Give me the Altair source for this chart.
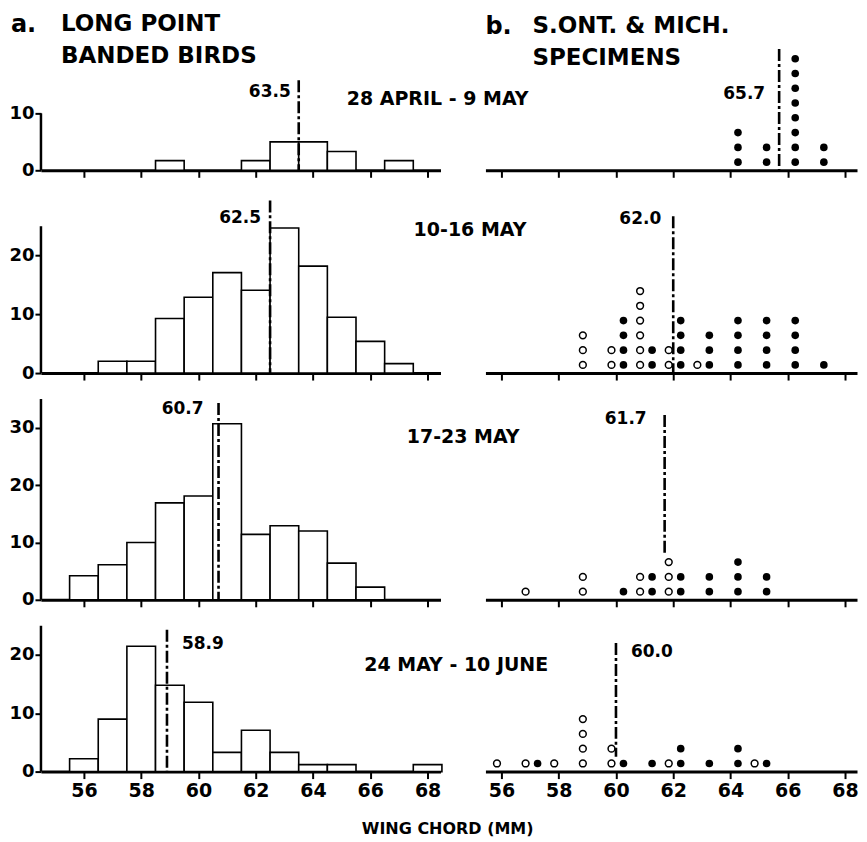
import altair as alt
import pandas as pd

# ---------------- data ----------------
MM = list(range(56, 69))  # wing chord classes (mm)
PERIODS = ["28 APRIL - 9 MAY", "10-16 MAY", "17-23 MAY", "24 MAY - 10 JUNE"]

banded_1 = [0, 0, 0, 1.7, 0, 0, 1.7, 5.0, 5.0, 3.3, 0, 1.7, 0]
banded_2 = [0, 2.0, 2.0, 9.3, 12.9, 17.1, 14.1, 24.7, 18.2, 9.5, 5.4, 1.6, 0]
banded_3 = [4.2, 6.1, 10.0, 16.9, 18.1, 30.7, 11.4, 12.9, 12.0, 6.4, 2.2, 0, 0]
banded_4 = [2.2, 9.0, 21.5, 14.8, 11.9, 3.3, 7.1, 3.3, 1.2, 1.2, 0, 0, 1.2]
BANDED = [banded_1, banded_2, banded_3, banded_4]
banded_means = [63.5, 62.5, 60.7, 58.9]
banded_mean_labels = ["63.5", "62.5", "60.7", "58.9"]

spec_open_1 = [0] * 13
spec_filled_1 = [0, 0, 0, 0, 0, 0, 0, 0, 3, 2, 8, 2, 0]
spec_open_2 = [0, 0, 0, 3, 2, 6, 2, 1, 0, 0, 0, 0, 0]
spec_filled_2 = [0, 0, 0, 0, 4, 2, 4, 3, 4, 4, 4, 1, 0]
spec_open_3 = [0, 1, 0, 2, 0, 2, 3, 0, 0, 0, 0, 0, 0]
spec_filled_3 = [0, 0, 0, 0, 1, 2, 2, 2, 3, 2, 0, 0, 0]
spec_open_4 = [1, 1, 1, 4, 2, 0, 1, 0, 0, 1, 0, 0, 0]
spec_filled_4 = [0, 1, 0, 0, 1, 1, 2, 1, 2, 1, 0, 0, 0]
SPEC_OPEN = [spec_open_1, spec_open_2, spec_open_3, spec_open_4]
SPEC_FILLED = [spec_filled_1, spec_filled_2, spec_filled_3, spec_filled_4]
spec_means = [65.7, 62.0, 61.7, 60.0]
spec_mean_labels = ["65.7", "62.0", "61.7", "60.0"]

Y_MAX = [10, 25, 35, 25]

# ---------------- layout / style ----------------
FONT = "DejaVu Sans"
ROW_H_AXIS = [57, 147, 201, 146]   # pixel height of the y-axis part
ROW_EXTRA = [0, 30, 0, 0]          # extra headroom above the axis
ROW_H = [a + e for a, e in zip(ROW_H_AXIS, ROW_EXTRA)]
LEFT_W, RIGHT_W = 400, 372
LEFT_DOMAIN = [54.5, 68.45]
RIGHT_DOMAIN = [55.44, 68.42]
LEVEL_PX = 14.8
left_line_top = [15.8, 29.4, 34.3, 24.3]
left_label_y = [13.7, 26.4, 33.3, 21.9]
left_label_dx = [-8, -9, -15, 15]
right_line_top = [8.2, 10.6, 12.5, 8.7]
right_line_bot = [0, 0, 3.1, 1.0]
right_label_y = [5.15, 10.4, 12.2, 8.1]
right_label_dx = [-14, -12, -18, 15]
period_x = [68.35, 69.48, 69.24, 69.0]
period_y = [12.6, 24.3, 28.4, 18.3]
DASH = [12, 3, 3, 3]


def xaxis(show_labels):
    return alt.Axis(values=MM, title=None, grid=False, domainWidth=3,
                    domainColor="black", tickColor="black", tickWidth=2,
                    tickSize=7, labels=show_labels,
                    labelExpr="datum.value % 2 == 0 ? datum.label : ''",
                    labelFontSize=19, labelFont=FONT, labelFontWeight="bold",
                    labelColor="black", labelPadding=3, labelFlush=False,
                    labelOverlap=False)


def yaxis(i):
    return alt.Axis(values=list(range(0, Y_MAX[i] + 1, 5)), title=None,
                    grid=False, domain=False,
                    tickColor="black", tickWidth=2, tickSize=6,
                    labelExpr="datum.value % 10 == 0 ? datum.label : ''",
                    labelFontSize=18, labelFont=FONT, labelFontWeight="bold",
                    labelColor="black", labelPadding=1, labelOverlap=False)


def text_layer(df, size, align="left", baseline="middle", dx=0, xs=None, ys=None):
    return alt.Chart(df).mark_text(font=FONT, fontSize=size, fontWeight="bold",
                                   align=align, baseline=baseline, dx=dx,
                                   color="black").encode(
        x=alt.X("tx:Q", scale=xs), y=alt.Y("ty:Q", scale=ys), text="t:N")


def left_chart(i):
    xs = alt.Scale(domain=LEFT_DOMAIN, nice=False, zero=False)
    ys = alt.Scale(domain=[0, Y_MAX[i] * ROW_H[i] / ROW_H_AXIS[i]], nice=False)
    df = pd.DataFrame({"mm": MM, "n": BANDED[i]})
    df = df[df.n > 0]
    bars = alt.Chart(df).transform_calculate(
        lo="datum.mm - 0.5", hi="datum.mm + 0.5"
    ).mark_rect(fill="white", stroke="black", strokeWidth=1.6).encode(
        x=alt.X("lo:Q", scale=xs, axis=xaxis(i == 3)),
        x2="hi:Q",
        y=alt.Y("n:Q", scale=ys, axis=yaxis(i)),
        y2=alt.datum(0),
    )
    # y-axis line, only as tall as the labelled range
    ydf = pd.DataFrame({"x0": [LEFT_DOMAIN[0]], "y0": [0], "y1": [Y_MAX[i]]})
    yline = alt.Chart(ydf).mark_rule(color="black", strokeWidth=2.5).encode(
        x=alt.X("x0:Q", scale=xs), y=alt.Y("y0:Q", scale=ys), y2="y1:Q")
    mdf = pd.DataFrame({"tx": [banded_means[i]], "top": [left_line_top[i]],
                        "ty": [left_label_y[i]], "t": [banded_mean_labels[i]]})
    rule = alt.Chart(mdf).mark_rule(color="black", strokeWidth=2.6,
                                    strokeDash=DASH).encode(
        x=alt.X("tx:Q", scale=xs), y=alt.Y("top:Q", scale=ys), y2=alt.datum(0))
    mlab = text_layer(mdf, 17, align="right" if left_label_dx[i] < 0 else "left",
                      dx=left_label_dx[i], xs=xs, ys=ys)
    pdf = pd.DataFrame({"tx": [period_x[i]], "ty": [period_y[i]], "t": [PERIODS[i]]})
    plab = text_layer(pdf, 19, align="center", xs=xs, ys=ys)
    layers = [bars, yline, rule, mlab, plab]
    if i == 0:
        h1 = pd.DataFrame({"tx": [53.45], "ty": [24.3], "t": ["a."]})
        h2 = pd.DataFrame({"tx": [55.2, 55.2], "ty": [24.4, 18.8],
                           "t": ["LONG POINT", "BANDED  BIRDS"]})
        layers.append(text_layer(h1, 24, baseline="alphabetic", xs=xs, ys=ys))
        layers.append(text_layer(h2, 23, baseline="alphabetic", xs=xs, ys=ys))
    if i == 3:
        tdf = pd.DataFrame({"tx": [68.7], "ty": [-9.9], "t": ["WING CHORD (MM)"]})
        layers.append(text_layer(tdf, 16, align="center", xs=xs, ys=ys))
    return alt.layer(*layers).properties(width=LEFT_W, height=ROW_H[i])


def expand(counts):
    rows = []
    for mm, c in zip(MM, counts):
        for k in range(c):
            rows.append({"mm": mm, "lev": k + 0.55})
    return pd.DataFrame(rows)


def right_chart(i):
    xs = alt.Scale(domain=RIGHT_DOMAIN, nice=False, zero=False)
    ys = alt.Scale(domain=[0, ROW_H[i] / LEVEL_PX], nice=False)
    adf = pd.DataFrame({"mm": MM})
    axis_layer = alt.Chart(adf).mark_point(opacity=0).encode(
        x=alt.X("mm:Q", scale=xs, axis=xaxis(i == 3)),
        y=alt.Y("z:Q", scale=ys, axis=None),
    ).transform_calculate(z="0")
    layers = [axis_layer]
    odf = expand(SPEC_OPEN[i])
    if len(odf):
        layers.append(alt.Chart(odf).mark_point(shape="circle", filled=False,
                                                color="black", size=46,
                                                strokeWidth=1.5, opacity=1,
                                                xOffset=-4.5).encode(
            x=alt.X("mm:Q", scale=xs), y=alt.Y("lev:Q", scale=ys)))
    fdf = expand(SPEC_FILLED[i])
    if len(fdf):
        layers.append(alt.Chart(fdf).mark_circle(color="black", size=58,
                                                 opacity=1, xOffset=7.5).encode(
            x=alt.X("mm:Q", scale=xs), y=alt.Y("lev:Q", scale=ys)))
    mdf = pd.DataFrame({"tx": [spec_means[i]], "top": [right_line_top[i]],
                        "bot": [right_line_bot[i]], "ty": [right_label_y[i]],
                        "t": [spec_mean_labels[i]]})
    layers.append(alt.Chart(mdf).mark_rule(color="black", strokeWidth=2.6,
                                           strokeDash=DASH).encode(
        x=alt.X("tx:Q", scale=xs), y=alt.Y("top:Q", scale=ys), y2="bot:Q"))
    layers.append(text_layer(mdf, 17, align="right" if right_label_dx[i] < 0 else "left",
                             dx=right_label_dx[i], xs=xs, ys=ys))
    if i == 0:
        h1 = pd.DataFrame({"tx": [55.44], "ty": [9.25], "t": ["b."]})
        h2 = pd.DataFrame({"tx": [57.08, 57.08], "ty": [9.28, 7.1],
                           "t": ["S.ONT. & MICH.", "SPECIMENS"]})
        layers.append(text_layer(h1, 24, baseline="alphabetic", xs=xs, ys=ys))
        layers.append(text_layer(h2, 23, baseline="alphabetic", xs=xs, ys=ys))
    return alt.layer(*layers).properties(width=RIGHT_W, height=ROW_H[i])


panels = []
for i in range(4):
    panels.append(left_chart(i))
    panels.append(right_chart(i))

chart = alt.concat(*panels, columns=2, spacing={"row": 26, "column": 45},
                   bounds="flush").properties(
    padding={"top": 4, "left": 0, "right": 0, "bottom": 0}, background="white"
).configure_view(stroke=None)

chart.save("out.html", embed_options={"renderer": "svg", "actions": False})
